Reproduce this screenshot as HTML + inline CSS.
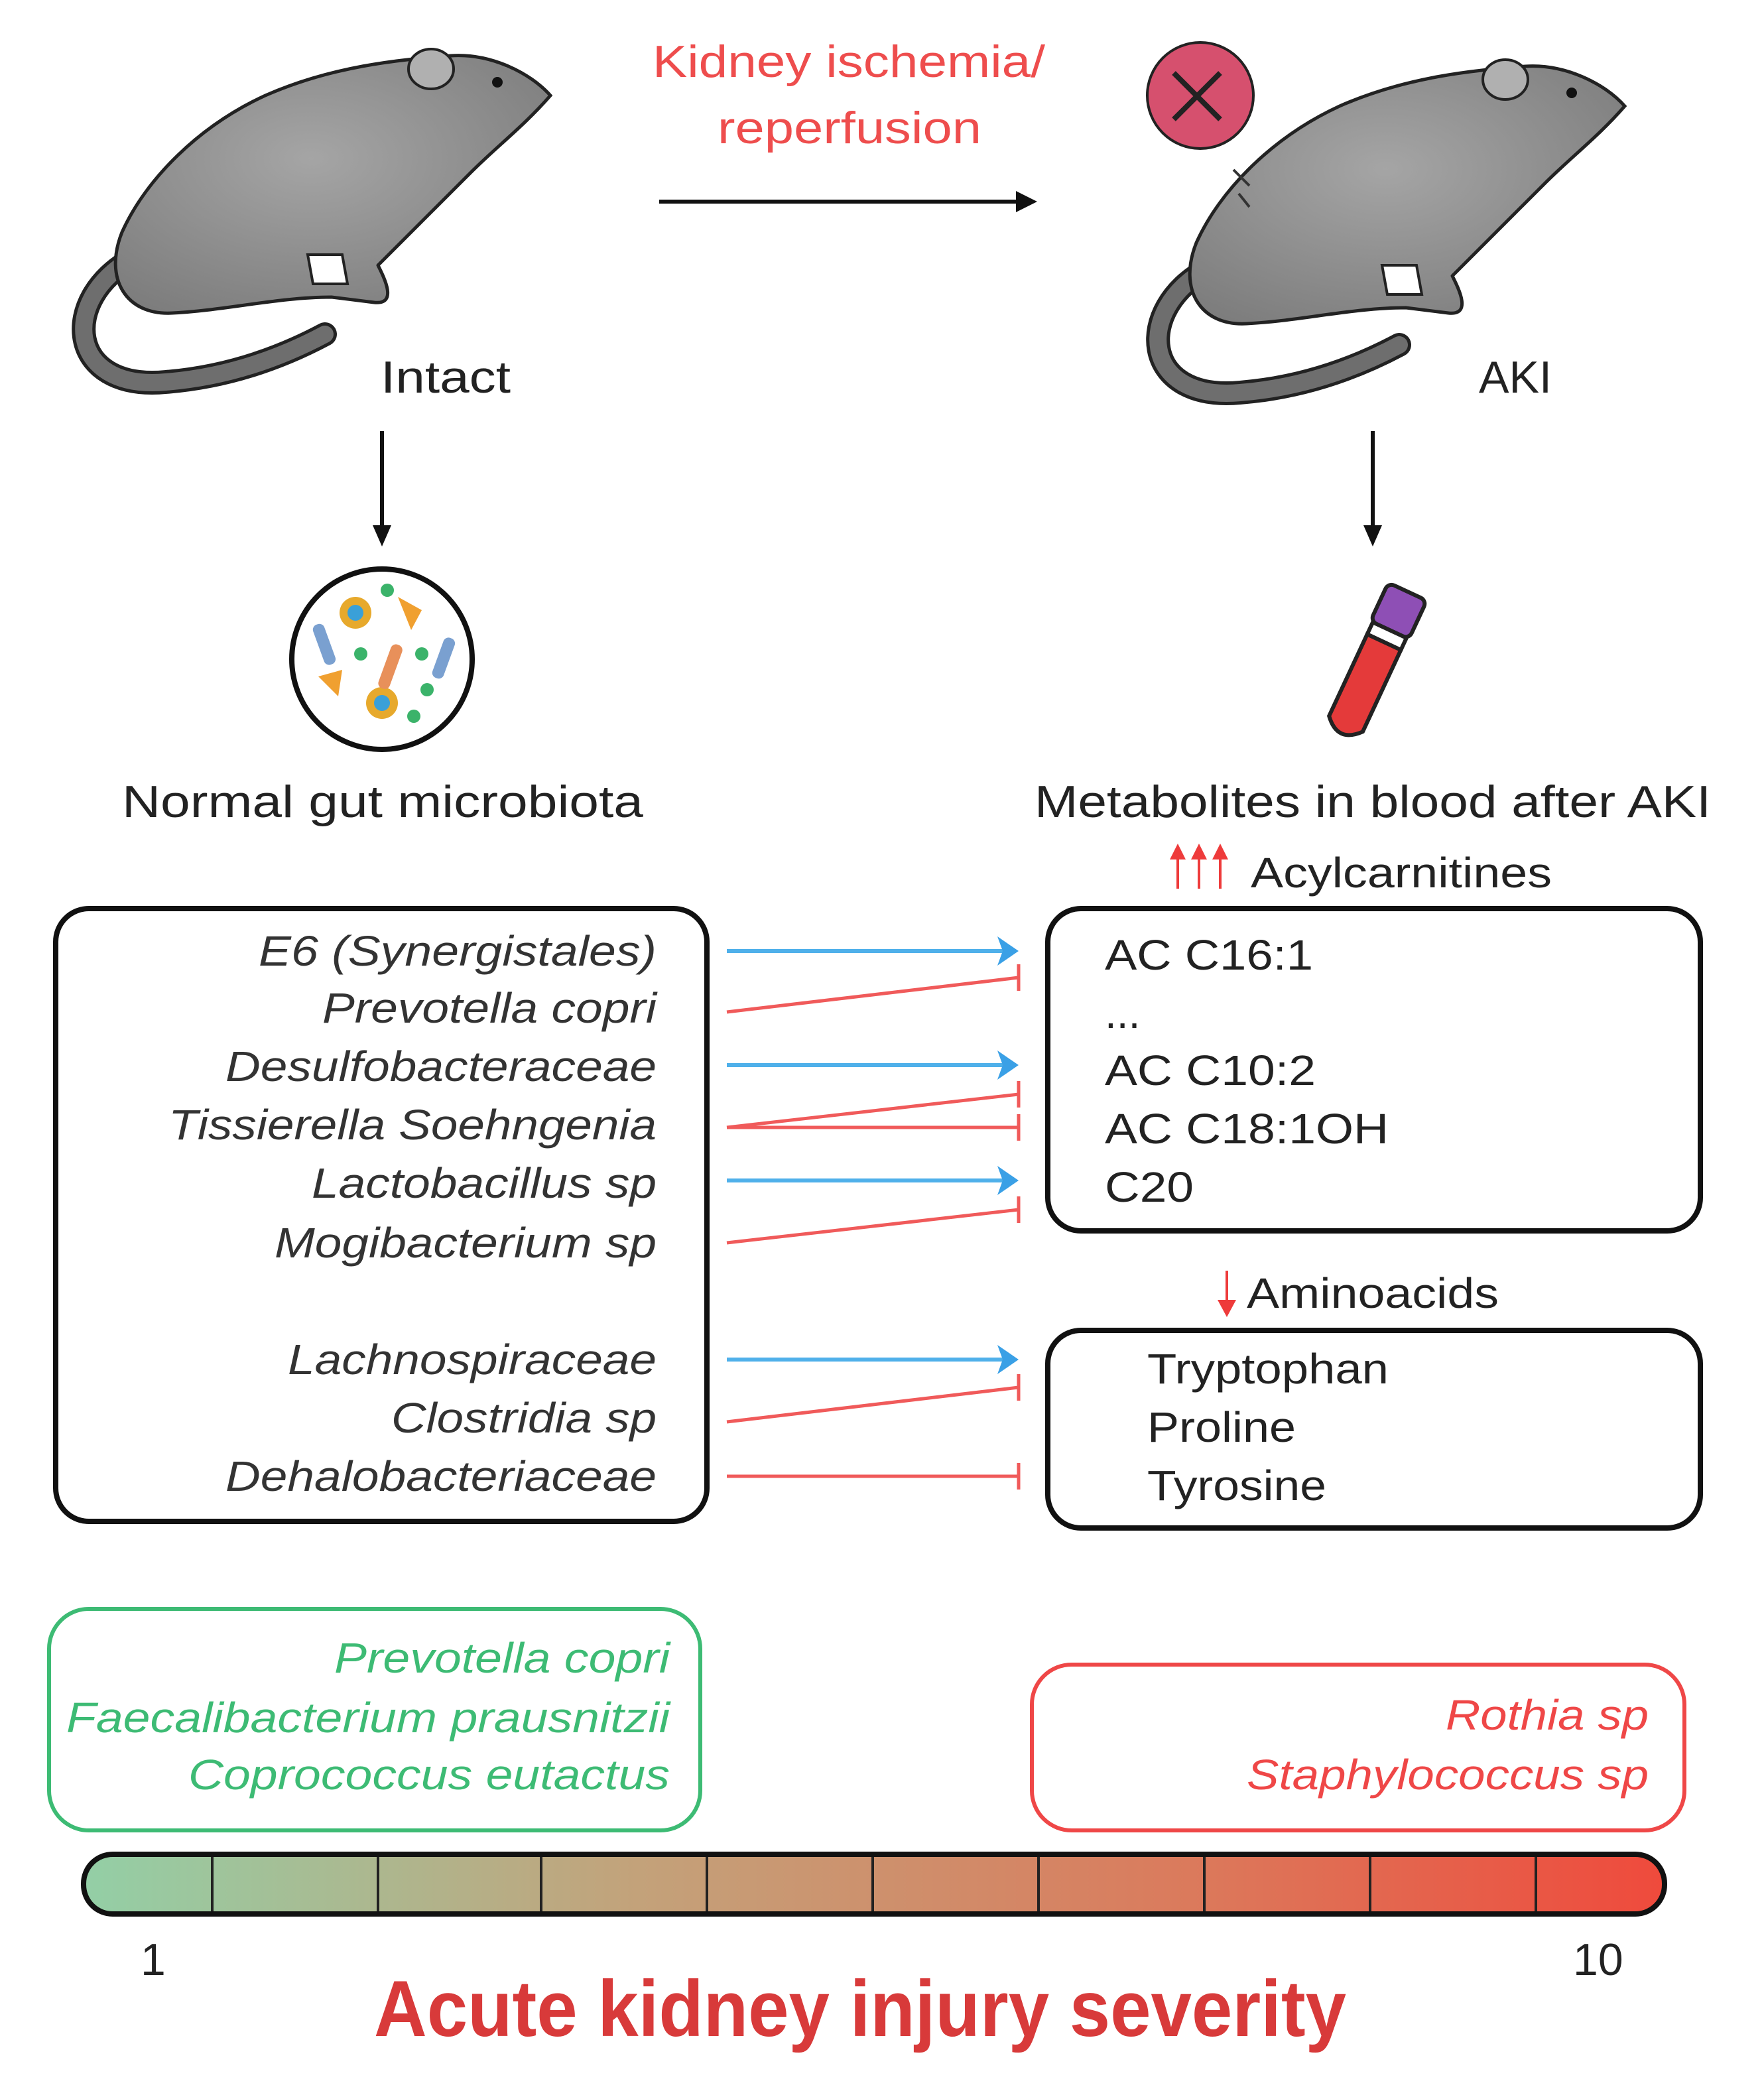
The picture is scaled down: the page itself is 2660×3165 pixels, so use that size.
<!DOCTYPE html>
<html><head><meta charset="utf-8"><style>html,body{margin:0;padding:0;background:#fff}svg{display:block}</style></head>
<body>
<svg width="2660" height="3165" viewBox="0 0 1330 1582.5" xmlns="http://www.w3.org/2000/svg" font-family="Liberation Sans, sans-serif">
<defs>
<linearGradient id="sev" x1="0" x2="1" y1="0" y2="0">
<stop offset="0" stop-color="#93cfa6"/><stop offset="0.35" stop-color="#c3a27a"/><stop offset="0.7" stop-color="#db7a5c"/><stop offset="1" stop-color="#ef4a3c"/>
</linearGradient>
<radialGradient id="body" cx="0.45" cy="0.4" r="0.7"><stop offset="0" stop-color="#a5a5a5"/><stop offset="1" stop-color="#7c7c7c"/></radialGradient>
<g id="rat">
<path d="M100 195 C45 225 50 295 125 288 C175 284 215 268 245 252" fill="none" stroke="#222" stroke-width="18" stroke-linecap="round"/>
<path d="M100 195 C45 225 50 295 125 288 C175 284 215 268 245 252" fill="none" stroke="#6e6e6e" stroke-width="13" stroke-linecap="round"/>
<path d="M415 72 C400 55 370 40 340 42 C300 45 250 50 200 72 C150 95 110 135 92 175 C78 210 95 238 130 236 C170 234 210 224 250 224 L282 228 C300 230 290 210 285 200 C310 175 335 150 355 130 C375 110 395 95 415 72 Z" fill="url(#body)" stroke="#222" stroke-width="2.5"/>
<ellipse cx="325" cy="52" rx="17" ry="15" fill="#b0b0b0" stroke="#222" stroke-width="2"/>
<circle cx="375" cy="62" r="4" fill="#111"/>
<path d="M232 192 L258 192 L262 214 L236 214 Z" fill="#fff" stroke="#222" stroke-width="2"/>
</g>
</defs>
<use href="#rat"/>
<use href="#rat" transform="translate(810,8)"/>
<g stroke="#222" stroke-width="2">
<circle cx="905" cy="72" r="40" fill="#d6506e"/>
<path d="M885 55 L920 90 M920 55 L885 90" stroke="#222" stroke-width="4"/>
<path d="M930 128 L942 140 M934 146 L942 156" stroke="#333"/>
</g>
<!-- titles -->
<g font-size="34" fill="#222">
<text x="287" y="296" textLength="98" lengthAdjust="spacingAndGlyphs">Intact</text>
<text x="1115" y="296" textLength="55" lengthAdjust="spacingAndGlyphs">AKI</text>
<text x="92" y="616" textLength="393" lengthAdjust="spacingAndGlyphs">Normal gut microbiota</text>
<text x="780" y="616" textLength="510" lengthAdjust="spacingAndGlyphs">Metabolites in blood after AKI</text>
</g>
<g font-size="34" fill="#ee4d4d">
<text x="492" y="58" textLength="296" lengthAdjust="spacingAndGlyphs">Kidney ischemia/</text>
<text x="541" y="108" textLength="199" lengthAdjust="spacingAndGlyphs">reperfusion</text>
</g>
<!-- black arrows -->
<g stroke="#111" stroke-width="3" fill="#111">
<line x1="497" y1="152" x2="770" y2="152"/><path d="M782 152 L766 144 L766 160 Z" stroke="none"/>
<line x1="288" y1="325" x2="288" y2="400"/><path d="M288 412 L281 396 L295 396 Z" stroke="none"/>
<line x1="1035" y1="325" x2="1035" y2="400"/><path d="M1035 412 L1028 396 L1042 396 Z" stroke="none"/>
</g>
<!-- microbe circle -->
<g>
<circle cx="288" cy="497" r="68" fill="#fff" stroke="#111" stroke-width="4"/>
<circle cx="268" cy="462" r="12" fill="#e7a92c"/><circle cx="268" cy="462" r="6" fill="#3aa0d8"/>
<circle cx="288" cy="530" r="12" fill="#e7a92c"/><circle cx="288" cy="530" r="6" fill="#3aa0d8"/>
<path d="M300 450 L318 460 L310 475 Z" fill="#f0a030"/>
<path d="M240 510 L258 505 L255 525 Z" fill="#f0a030"/>
<rect x="240" y="470" width="9" height="32" rx="4" fill="#7aa0d0" transform="rotate(-20 244 486)"/>
<rect x="290" y="485" width="9" height="35" rx="4" fill="#e8905a" transform="rotate(20 294 502)"/>
<rect x="330" y="480" width="9" height="32" rx="4" fill="#7aa0d0" transform="rotate(20 334 496)"/>
<circle cx="292" cy="445" r="5" fill="#3bb36a"/><circle cx="272" cy="493" r="5" fill="#3bb36a"/><circle cx="318" cy="493" r="5" fill="#3bb36a"/><circle cx="322" cy="520" r="5" fill="#3bb36a"/><circle cx="312" cy="540" r="5" fill="#3bb36a"/>
</g>
<!-- tube -->
<g stroke="#222" stroke-width="3" transform="rotate(25 1035 500)">
<rect x="1020" y="440" width="32" height="32" rx="5" fill="#8e4fb5"/>
<rect x="1022" y="472" width="28" height="10" fill="#fff"/>
<path d="M1022 482 L1050 482 L1050 550 Q1036 566 1022 550 Z" fill="#e43a3a"/>
</g>
<!-- headers -->
<g fill="#ee3b3b" stroke="#ee3b3b" stroke-width="2">
<line x1="888" y1="670" x2="888" y2="642"/><line x1="904" y1="670" x2="904" y2="642"/><line x1="920" y1="670" x2="920" y2="642"/>
<path d="M888 636 L882 648 L894 648 Z M904 636 L898 648 L910 648 Z M920 636 L914 648 L926 648 Z" stroke="none"/>
<line x1="925" y1="958" x2="925" y2="985"/><path d="M925 993 L918 980 L932 980 Z" stroke="none"/>
</g>
<g font-size="32" fill="#222">
<text x="943" y="669" textLength="227" lengthAdjust="spacingAndGlyphs">Acylcarnitines</text>
<text x="940" y="986" textLength="190" lengthAdjust="spacingAndGlyphs">Aminoacids</text>
</g>
<!-- boxes -->
<rect x="42" y="685" width="491" height="462" rx="25" fill="none" stroke="#111" stroke-width="4"/>
<rect x="790" y="685" width="492" height="243" rx="25" fill="none" stroke="#111" stroke-width="4"/>
<rect x="790" y="1003" width="492" height="149" rx="25" fill="none" stroke="#111" stroke-width="4"/>
<g font-size="32" fill="#333" font-style="italic" text-anchor="end">
<text x="495" y="728" textLength="300" lengthAdjust="spacingAndGlyphs">E6 (Synergistales)</text>
<text x="495" y="771" textLength="252" lengthAdjust="spacingAndGlyphs">Prevotella copri</text>
<text x="495" y="815" textLength="325" lengthAdjust="spacingAndGlyphs">Desulfobacteraceae</text>
<text x="495" y="859" textLength="368" lengthAdjust="spacingAndGlyphs">Tissierella Soehngenia</text>
<text x="495" y="903" textLength="260" lengthAdjust="spacingAndGlyphs">Lactobacillus sp</text>
<text x="495" y="948" textLength="288" lengthAdjust="spacingAndGlyphs">Mogibacterium sp</text>
<text x="495" y="1036" textLength="278" lengthAdjust="spacingAndGlyphs">Lachnospiraceae</text>
<text x="495" y="1080" textLength="200" lengthAdjust="spacingAndGlyphs">Clostridia sp</text>
<text x="495" y="1124" textLength="325" lengthAdjust="spacingAndGlyphs">Dehalobacteriaceae</text>
</g>
<g font-size="32" fill="#222">
<text x="833" y="731" textLength="157" lengthAdjust="spacingAndGlyphs">AC C16:1</text>
<text x="833" y="775">...</text>
<text x="833" y="818" textLength="159" lengthAdjust="spacingAndGlyphs">AC C10:2</text>
<text x="833" y="862" textLength="214" lengthAdjust="spacingAndGlyphs">AC C18:1OH</text>
<text x="833" y="906" textLength="67" lengthAdjust="spacingAndGlyphs">C20</text>
<text x="865" y="1043" textLength="182" lengthAdjust="spacingAndGlyphs">Tryptophan</text>
<text x="865" y="1087" textLength="112" lengthAdjust="spacingAndGlyphs">Proline</text>
<text x="865" y="1131" textLength="135" lengthAdjust="spacingAndGlyphs">Tyrosine</text>
</g>
<!-- connectors -->
<g stroke="#4fb0ea" stroke-width="3" fill="#3aa0e6">
<line x1="548" y1="717" x2="760" y2="717"/><path d="M768 717 L752 706 L756 717 L752 728 Z" stroke="none"/>
<line x1="548" y1="803" x2="760" y2="803"/><path d="M768 803 L752 792 L756 803 L752 814 Z" stroke="none"/>
<line x1="548" y1="890" x2="760" y2="890"/><path d="M768 890 L752 879 L756 890 L752 901 Z" stroke="none"/>
<line x1="548" y1="1025" x2="760" y2="1025"/><path d="M768 1025 L752 1014 L756 1025 L752 1036 Z" stroke="none"/>
</g>
<g stroke="#f05a5a" stroke-width="2.5" fill="none">
<line x1="548" y1="763" x2="768" y2="737"/><line x1="768" y1="727" x2="768" y2="747"/>
<line x1="548" y1="850" x2="768" y2="825"/><line x1="768" y1="815" x2="768" y2="835"/>
<line x1="548" y1="850" x2="768" y2="850"/><line x1="768" y1="840" x2="768" y2="860"/>
<line x1="548" y1="937" x2="768" y2="912"/><line x1="768" y1="902" x2="768" y2="922"/>
<line x1="548" y1="1072" x2="768" y2="1046"/><line x1="768" y1="1036" x2="768" y2="1056"/>
<line x1="548" y1="1113" x2="768" y2="1113"/><line x1="768" y1="1103" x2="768" y2="1123"/>
</g>
<!-- bottom boxes -->
<rect x="37" y="1213" width="491" height="167" rx="30" fill="none" stroke="#3dbb74" stroke-width="3"/>
<rect x="778" y="1255" width="492" height="125" rx="30" fill="none" stroke="#ef4747" stroke-width="3"/>
<g font-size="32" font-style="italic" text-anchor="end" fill="#3dbb74">
<text x="505" y="1261" textLength="253" lengthAdjust="spacingAndGlyphs">Prevotella copri</text>
<text x="505" y="1306" textLength="455" lengthAdjust="spacingAndGlyphs">Faecalibacterium prausnitzii</text>
<text x="505" y="1349" textLength="363" lengthAdjust="spacingAndGlyphs">Coprococcus eutactus</text>
</g>
<g font-size="32" font-style="italic" text-anchor="end" fill="#ef4747">
<text x="1243" y="1304" textLength="153" lengthAdjust="spacingAndGlyphs">Rothia sp</text>
<text x="1243" y="1349" textLength="303" lengthAdjust="spacingAndGlyphs">Staphylococcus sp</text>
</g>
<!-- bar -->
<rect x="63" y="1398" width="1192" height="45" rx="22" fill="url(#sev)" stroke="#111" stroke-width="4"/>
<g stroke="#222" stroke-width="2">
<line x1="160" y1="1400" x2="160" y2="1441"/><line x1="285" y1="1400" x2="285" y2="1441"/><line x1="408" y1="1400" x2="408" y2="1441"/><line x1="533" y1="1400" x2="533" y2="1441"/><line x1="658" y1="1400" x2="658" y2="1441"/><line x1="783" y1="1400" x2="783" y2="1441"/><line x1="908" y1="1400" x2="908" y2="1441"/><line x1="1033" y1="1400" x2="1033" y2="1441"/><line x1="1158" y1="1400" x2="1158" y2="1441"/>
</g>
<g font-size="34" fill="#222">
<text x="106" y="1489">1</text>
<text x="1186" y="1489">10</text>
</g>
<text x="282" y="1535" font-size="60" font-weight="bold" fill="#d83a3a" textLength="733" lengthAdjust="spacingAndGlyphs">Acute kidney injury severity</text>
</svg>
</body></html>
